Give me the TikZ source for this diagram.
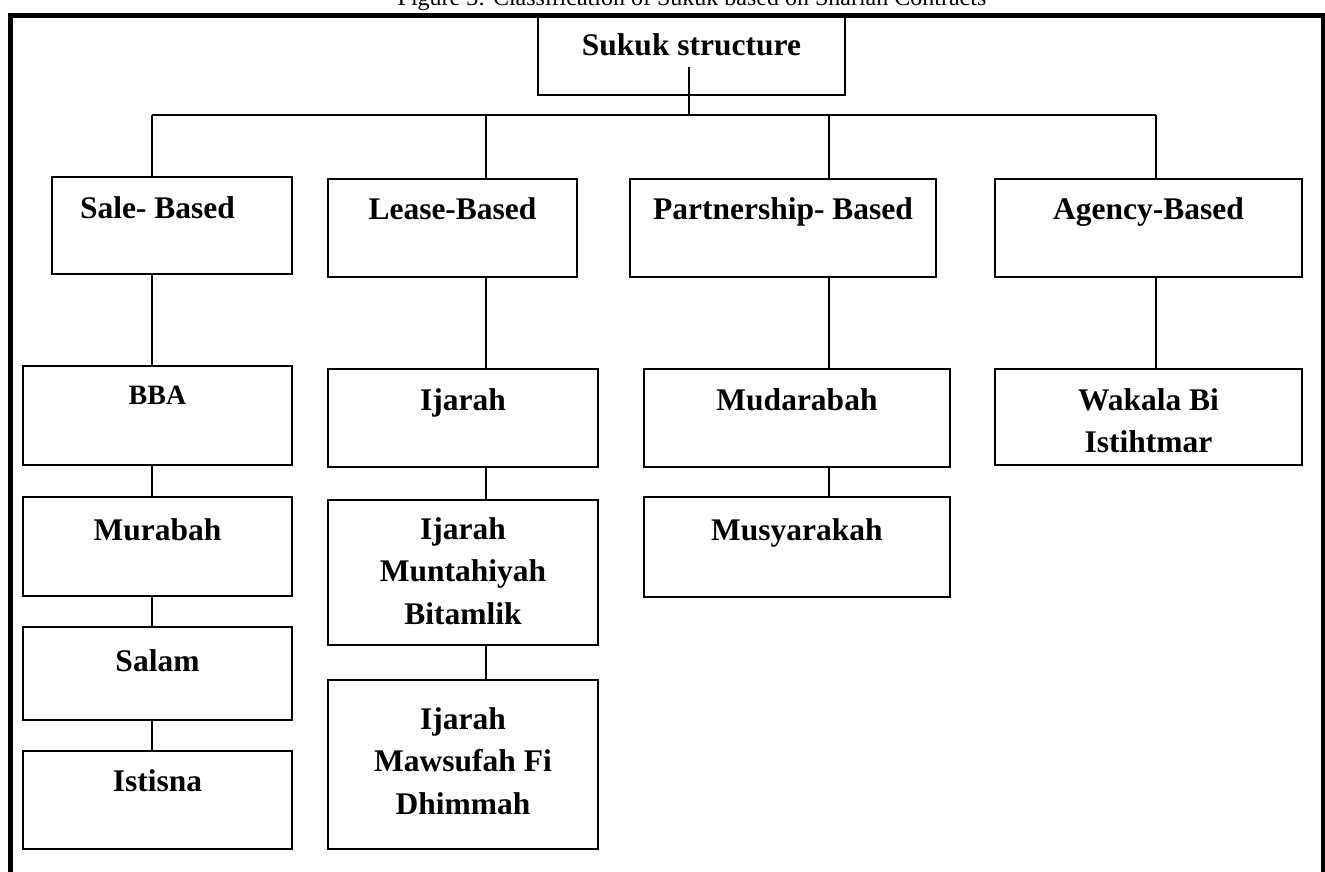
\documentclass[tikz,border=0pt]{standalone}
\usepackage{fontspec}
\setmainfont{Liberation Serif}
\begin{document}
\begin{tikzpicture}[x=1pt,y=-1pt,
  box/.style={draw, line width=1.8pt, inner sep=0pt, minimum width=#1},
  lbl/.style={inner sep=0pt, anchor=base, align=center, font=\fontsize{31.5}{42.5}\selectfont\bfseries},
  lblsmall/.style={inner sep=0pt, anchor=base, align=center, font=\fontsize{28}{40}\selectfont\bfseries},
  link/.style={line width=1.5pt},
  frame/.style={line width=5pt}]
\useasboundingbox (0,0) rectangle (1325,871);
% partially visible caption
\begin{scope}
\clip (0,0) rectangle (1325,871);
\node[inner sep=0pt, anchor=base, font=\fontsize{24}{28}\selectfont] (caption) at (692,5) {Figure 3: Classification of Sukuk based on Shariah Contracts};
\end{scope}
% boxes
\node[box=307, minimum height=79] (top) at (691.5,55.5) {};
\node[box=240, minimum height=97] (sale) at (172,225.5) {};
\node[box=249, minimum height=98] (lease) at (452.5,228) {};
\node[box=306, minimum height=98] (part) at (783,228) {};
\node[box=307, minimum height=98] (agency) at (1148.5,228) {};
\node[box=269, minimum height=99] (bba) at (157.5,415.5) {};
\node[box=269, minimum height=99] (murabah) at (157.5,546.5) {};
\node[box=269, minimum height=93] (salam) at (157.5,673.5) {};
\node[box=269, minimum height=98] (istisna) at (157.5,800) {};
\node[box=270, minimum height=98] (ijarah) at (463,418) {};
\node[box=270, minimum height=145] (ijmb) at (463,572.5) {};
\node[box=270, minimum height=169] (ijmf) at (463,764.5) {};
\node[box=306, minimum height=98] (mudarabah) at (797,418) {};
\node[box=306, minimum height=100] (musyarakah) at (797,547) {};
\node[box=307, minimum height=96] (wakala) at (1148.5,417) {};
% labels (multi-line labels are anchored at the baseline of their last line)
\node[lbl] (ttop) at (691.5,55) {Sukuk structure};
\node[lbl] (tsale) at (157.5,218) {Sale- Based};
\node[lbl] (tlease) at (452.5,219) {Lease-Based};
\node[lbl] (tpart) at (783,219) {Partnership- Based};
\node[lbl] (tagency) at (1148.5,219) {Agency-Based};
\node[lblsmall] (tbba) at (157.5,404) {BBA};
\node[lbl] (tmurabah) at (157.5,540) {Murabah};
\node[lbl] (tsalam) at (157.5,671) {Salam};
\node[lbl] (tistisna) at (157.5,791) {Istisna};
\node[lbl] (tijarah) at (463,410) {Ijarah};
\node[lbl] (tijmb) at (463,624) {Ijarah\\Muntahiyah\\Bitamlik};
\node[lbl] (tijmf) at (463,814) {Ijarah\\Mawsufah Fi\\Dhimmah};
\node[lbl] (tmud) at (797,410) {Mudarabah};
\node[lbl] (tmus) at (797,540) {Musyarakah};
\node[lbl] (twak) at (1148.5,452.5) {Wakala Bi\\Istihtmar};
% connector coordinates
\coordinate (stem) at (689,67);
\coordinate (hub) at (689,115);
\coordinate (c1) at (152,115);
\coordinate (c2) at (486,115);
\coordinate (c3) at (829,115);
\coordinate (c4) at (1156,115);
% connectors
\draw[link] (stem) -- (hub);
\draw[link] (c1) -- (c4);
\draw[link] (c1) -- (sale.north -| c1);
\draw[link] (c2) -- (lease.north -| c2);
\draw[link] (c3) -- (part.north -| c3);
\draw[link] (c4) -- (agency.north -| c4);
\draw[link] (sale.south -| c1) -- (bba.north -| c1);
\draw[link] (bba.south -| c1) -- (murabah.north -| c1);
\draw[link] (murabah.south -| c1) -- (salam.north -| c1);
\draw[link] (salam.south -| c1) -- (istisna.north -| c1);
\draw[link] (lease.south -| c2) -- (ijarah.north -| c2);
\draw[link] (ijarah.south -| c2) -- (ijmb.north -| c2);
\draw[link] (ijmb.south -| c2) -- (ijmf.north -| c2);
\draw[link] (part.south -| c3) -- (mudarabah.north -| c3);
\draw[link] (mudarabah.south -| c3) -- (musyarakah.north -| c3);
\draw[link] (agency.south -| c4) -- (wakala.north -| c4);
% outer frame (open at the bottom)
\coordinate (fbl) at (10,890);
\coordinate (ftl) at (10,15.5);
\coordinate (ftr) at (1323,15.5);
\coordinate (fbr) at (1323,890);
\draw[frame] (fbl) -- (ftl) -- (ftr) -- (fbr);
\end{tikzpicture}
\end{document}
